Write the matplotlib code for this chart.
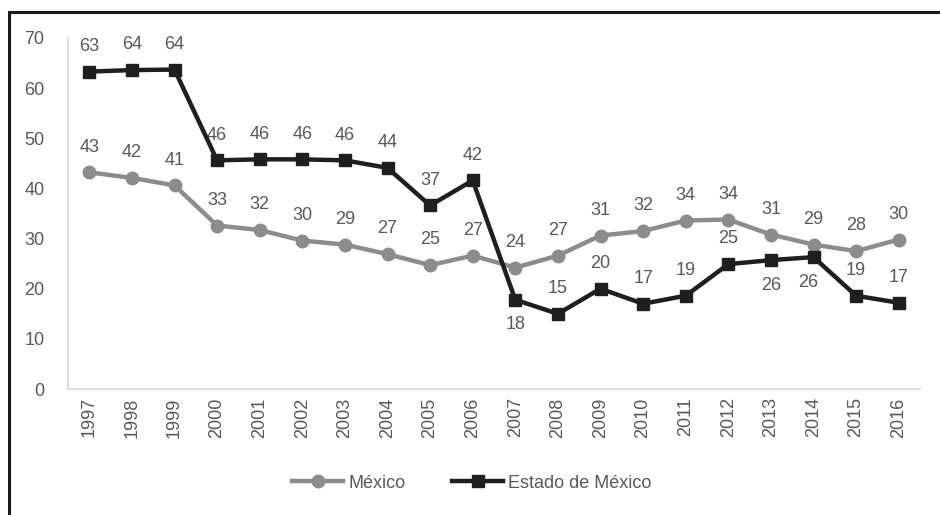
import matplotlib
matplotlib.use("Agg")
import matplotlib.pyplot as plt
from matplotlib.patches import Rectangle
from matplotlib.lines import Line2D

years = [str(y) for y in range(1997, 2017)]
mexico = [43.2, 42.1, 40.6, 32.6, 31.7, 29.6, 28.8, 26.9, 24.7, 26.6,
          24.2, 26.6, 30.6, 31.5, 33.6, 33.8, 30.8, 28.8, 27.5, 29.8]
edomex = [63.3, 63.6, 63.7, 45.6, 45.8, 45.8, 45.6, 44.1, 36.6, 41.6,
          17.8, 15.0, 20.0, 17.0, 18.6, 24.9, 25.7, 26.3, 18.6, 17.2]
edomex_below = ["2007", "2013", "2014"]

GRAY = "#8c8c8c"
BLACK = "#1f1f1f"
TXT = "#595959"
FONT = ["Liberation Sans Narrow", "Liberation Sans", "DejaVu Sans"]
plt.rcParams["font.family"] = FONT

fig = plt.figure(figsize=(9.4, 5.15), dpi=100)
ax = fig.add_axes([68/940, 1-389/515, (920-68)/940, (389-38)/515])

x = list(range(len(years)))
ax.plot(x, mexico, color=GRAY, lw=3.2, marker="o", ms=9, zorder=3)
ax.plot(x, edomex, color=BLACK, lw=3.2, marker="s", ms=9, zorder=4)

for i, v in enumerate(mexico):
    ax.annotate(f"{round(v)}", (i, v), xytext=(0, 12), textcoords="offset points",
                ha="center", va="bottom", color=TXT, fontsize=13)
for i, v in enumerate(edomex):
    if years[i] in edomex_below:
        dx = -4 if years[i] == "2014" else 0
        ax.annotate(f"{round(v)}", (i, v), xytext=(dx, -12), textcoords="offset points",
                    ha="center", va="top", color=TXT, fontsize=13)
    else:
        ax.annotate(f"{round(v)}", (i, v), xytext=(0, 12), textcoords="offset points",
                    ha="center", va="bottom", color=TXT, fontsize=13)

ax.set_xlim(-0.5, len(years) - 0.5)
ax.set_ylim(0, 70)
ax.set_yticks(range(0, 71, 10))
ax.set_xticks(x)
ax.set_xticklabels(years, rotation=90)
ax.tick_params(axis="both", length=0, colors=TXT, labelsize=13)
ax.tick_params(axis="y", pad=17)
ax.tick_params(axis="x", pad=6)
for s in ["top", "right"]:
    ax.spines[s].set_visible(False)
for s in ["left", "bottom"]:
    ax.spines[s].set_color("#d9d9d9")
    ax.spines[s].set_linewidth(1.2)

handles = [Line2D([], [], color=GRAY, lw=3.2, marker="o", ms=9),
           Line2D([], [], color=BLACK, lw=3.2, marker="s", ms=9)]
leg = fig.legend(handles, ["México", "Estado de México"], loc="center",
                 bbox_to_anchor=(472/940, 1-483/515), ncol=2, frameon=False,
                 fontsize=13, handlelength=2.8, handletextpad=0.3, columnspacing=2.6,
                 labelcolor=TXT)

fig.patches.append(Rectangle((9/940, -0.1), 1.2, 1-12/515+0.1, transform=fig.transFigure,
                             fill=False, edgecolor="#1a1a1a", lw=2.2))

fig.savefig("out.png", dpi=100)
